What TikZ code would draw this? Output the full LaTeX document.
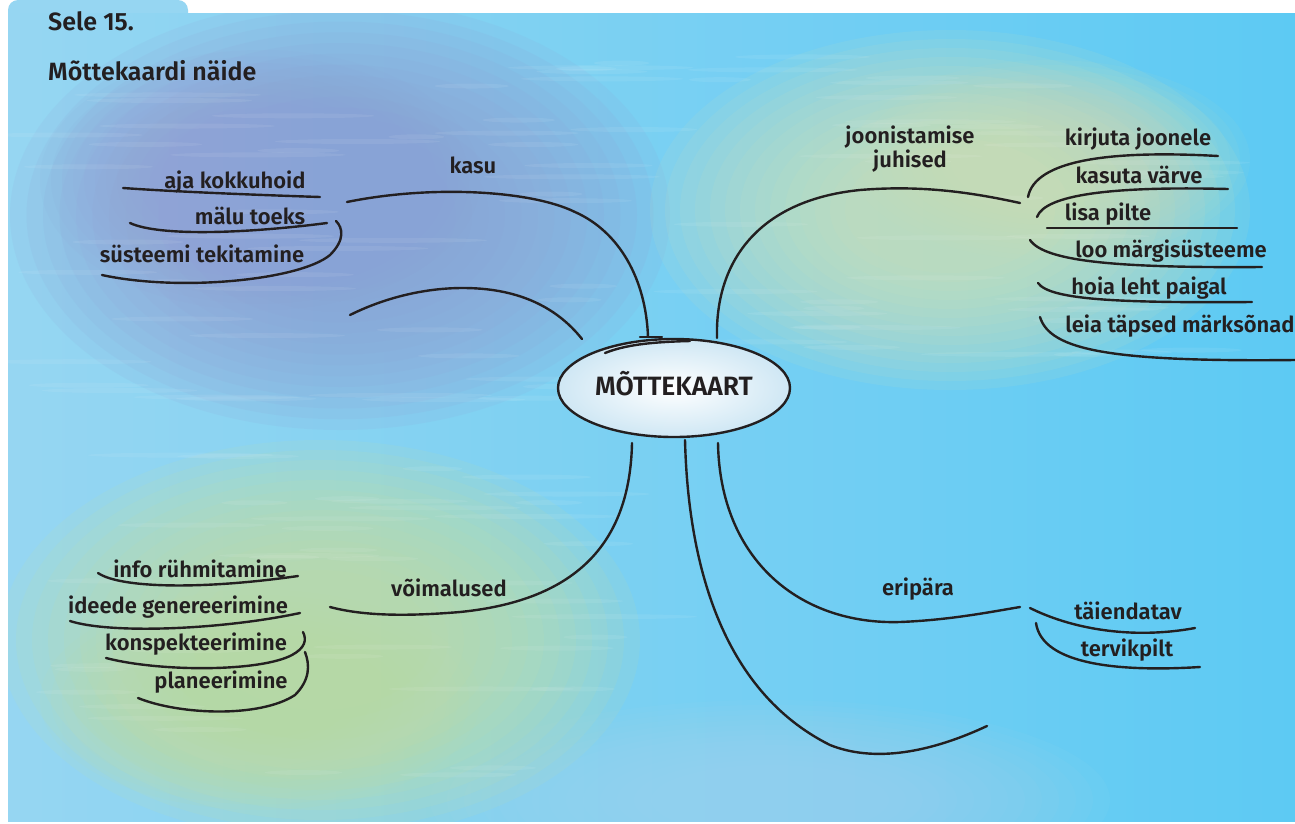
\documentclass[tikz,border=0pt]{standalone}
\usepackage{fontspec}
\IfFontExistsTF{Fira Sans SemiBold}
  {\setmainfont{Fira Sans}[BoldFont={Fira Sans SemiBold}]}
  {\setmainfont{Fira Sans}}
\usetikzlibrary{shapes.geometric}

\definecolor{ink}{HTML}{231F20}
\definecolor{bgL}{HTML}{96D6F2}
\definecolor{bgR}{HTML}{5DCAF3}
\definecolor{lav}{HTML}{8FA3D6}
\definecolor{sand}{HTML}{D3E3B7}
\definecolor{moss}{HTML}{C2E0A6}
\definecolor{mist}{HTML}{A6DBEE}
\definecolor{cloud}{HTML}{CFE7F4}

% soft paint blob: stacked translucent ellipses, denser towards the middle
% #1 colour, #2 opacity of one layer, (#3,#4) centre, #5/#6 outer radii
\newcommand\paintblob[6]{%
  \foreach \s in {1.00,0.95,...,0.30}{%
    \fill[#1, fill opacity=#2] (#3,#4) ellipse ({#5*\s} and {#6*\s});
  }%
}

\tikzset{
  branch/.style={line width=2.4pt, draw=ink, line cap=round},
  lbl/.style={font=\bfseries\fontsize{22}{22}\selectfont, text=ink, inner sep=0pt, anchor=base},
  ttl/.style={font=\bfseries\fontsize{25}{25}\selectfont, text=ink, inner sep=0pt, anchor=base west},
}

\begin{document}
\begin{tikzpicture}[x=1pt,y=-1pt]
\useasboundingbox (0,0) rectangle (1295,823);
\fill[white] (0,0) rectangle (1295,823);

% ---- painted background ----
\fill[bgL, rounded corners=10pt] (8,0) rectangle (188,40);
\shade[left color=bgL, right color=bgR] (8,13) rectangle (1295,821);
\begin{scope}
  \clip (8,13) rectangle (1295,821);
  \paintblob{mist}{0.07}{770}{800}{340}{100}
  \paintblob{lav}{0.13}{340}{215}{330}{215}
  \paintblob{lav}{0.08}{260}{180}{220}{130}
  \paintblob{sand}{0.10}{950}{210}{300}{180}
  \paintblob{sand}{0.06}{1050}{160}{200}{100}
  \paintblob{moss}{0.12}{320}{640}{320}{200}
  \paintblob{moss}{0.07}{260}{700}{220}{110}
  % brush streaks
  \pgfmathsetseed{12}
  \foreach \k in {1,...,50}{
    \pgfmathsetmacro\sx{60+600*rnd}
    \pgfmathsetmacro\sy{60+350*rnd}
    \pgfmathsetmacro\sw{25+70*rnd}
    \fill[white, fill opacity=0.07] (\sx,\sy) ellipse ({\sw} and 2.5);
  }
  \foreach \k in {1,...,40}{
    \pgfmathsetmacro\sx{700+500*rnd}
    \pgfmathsetmacro\sy{40+320*rnd}
    \pgfmathsetmacro\sw{25+70*rnd}
    \fill[white, fill opacity=0.07] (\sx,\sy) ellipse ({\sw} and 2.5);
  }
  \foreach \k in {1,...,40}{
    \pgfmathsetmacro\sx{70+540*rnd}
    \pgfmathsetmacro\sy{450+330*rnd}
    \pgfmathsetmacro\sw{25+70*rnd}
    \fill[white, fill opacity=0.07] (\sx,\sy) ellipse ({\sw} and 2.5);
  }
\end{scope}

% ---- heading ----
\node[ttl] (fig) at (48,30) {Sele 15.};
\node[ttl] (cap) at (48,80) {Mõttekaardi näide};

% ---- branch end points ----
\coordinate (kasuA) at (648,337);
\coordinate (kasuB) at (347,202);
\coordinate (emptyA) at (582,339);
\coordinate (emptyB) at (350,315);
\coordinate (juhA) at (717,338);
\coordinate (juhB) at (1020,203);
\coordinate (voiA) at (632,443);
\coordinate (voiB) at (330,607);
\coordinate (lowA) at (685,440);
\coordinate (lowB) at (987,726);
\coordinate (eriA) at (718,443);
\coordinate (eriB) at (1020,607);

% ---- main branches ----
\draw[branch] (kasuA) .. controls (646,280) and (620,232) .. (575,212)
              .. controls (530,190) and (430,185) .. (kasuB);
\draw[branch] (640,337) -- (662,337);
\draw[branch] (emptyA) .. controls (555,305) and (515,288) .. (463,288)
              .. controls (420,288) and (380,300) .. (emptyB);
\draw[branch] (juhA) .. controls (715,260) and (760,200) .. (860,190)
              .. controls (920,185) and (970,192) .. (juhB);
\draw[branch] (voiA) .. controls (630,540) and (580,600) .. (460,612)
              .. controls (400,617) and (360,615) .. (voiB);
\draw[branch] (lowA) .. controls (688,560) and (720,690) .. (830,745)
              .. controls (880,765) and (940,748) .. (lowB);
\draw[branch] (eriA) .. controls (720,560) and (800,625) .. (900,622)
              .. controls (950,620) and (990,612) .. (eriB);

% ---- kasu ----
\draw[branch] (123,188) .. controls (180,192) and (260,195) .. (320,197);
\draw[branch] (130,223) .. controls (160,237) and (250,233) .. (327,223);
\draw[branch] (102,275) .. controls (180,292) and (300,280) .. (330,255)
              .. controls (345,240) and (343,228) .. (336,221);

% ---- joonistamise juhised ----
\draw[branch] (1028,197) .. controls (1035,160) and (1110,150) .. (1218,156);
\draw[branch] (1037,217) .. controls (1045,195) and (1110,186) .. (1228,189);
\draw[branch] (1047,228) -- (1237,228);
\draw[branch] (1030,240) .. controls (1045,262) and (1120,268) .. (1262,267);
\draw[branch] (1038,283) .. controls (1050,300) and (1120,303) .. (1252,302);
\draw[branch] (1040,317) .. controls (1050,350) and (1110,362) .. (1295,360);

% ---- võimalused ----
\draw[branch] (98,573) .. controls (120,588) and (200,590) .. (298,576);
\draw[branch] (70,621) .. controls (110,634) and (220,630) .. (300,613);
\draw[branch] (106,658) .. controls (160,672) and (260,672) .. (292,655)
              .. controls (305,648) and (307,640) .. (303,632);
\draw[branch] (138,698) .. controls (180,715) and (260,718) .. (295,695)
              .. controls (310,680) and (310,665) .. (305,652);

% ---- eripära ----
\draw[branch] (1030,608) .. controls (1070,628) and (1130,640) .. (1195,628);
\draw[branch] (1036,623) .. controls (1042,665) and (1120,672) .. (1200,667);

% ---- centre ----
\node[ellipse, draw=ink, line width=2.4pt, inner color=white, outer color=cloud,
      minimum width=232pt, minimum height=98pt, inner sep=0pt] (core) at (674,388) {};
\draw[branch] (605,353) .. controls (625,345) and (650,342) .. (690,341);
\node[lbl, font=\bfseries\fontsize{26.5}{26.5}\selectfont] (coretext) at (674,395) {MÕTTEKAART};

% ---- labels ----
\node[lbl] (kasu) at (473,173) {kasu};
\node[lbl] (k1) at (235,188) {aja kokkuhoid};
\node[lbl] (k2) at (250,224) {mälu toeks};
\node[lbl] (k3) at (202,262) {süsteemi tekitamine};

\node[lbl] (juh1) at (910,143) {joonistamise};
\node[lbl] (juh2) at (910,167) {juhised};
\node[lbl] (j1) at (1138,145) {kirjuta joonele};
\node[lbl] (j2) at (1139,183) {kasuta värve};
\node[lbl] (j3) at (1108,220) {lisa pilte};
\node[lbl] (j4) at (1171,257) {loo märgisüsteeme};
\node[lbl] (j5) at (1149,294) {hoia leht paigal};
\node[lbl] (j6) at (1180,332) {leia täpsed märksõnad};

\node[lbl] (voi) at (449,596) {võimalused};
\node[lbl] (v1) at (200,577) {info rühmitamine};
\node[lbl] (v2) at (178,613) {ideede genereerimine};
\node[lbl] (v3) at (196,650) {konspekteerimine};
\node[lbl] (v4) at (221,688) {planeerimine};

\node[lbl] (eri) at (918,595) {eripära};
\node[lbl] (e1) at (1128,619) {täiendatav};
\node[lbl] (e2) at (1127,656) {tervikpilt};
\end{tikzpicture}
\end{document}
